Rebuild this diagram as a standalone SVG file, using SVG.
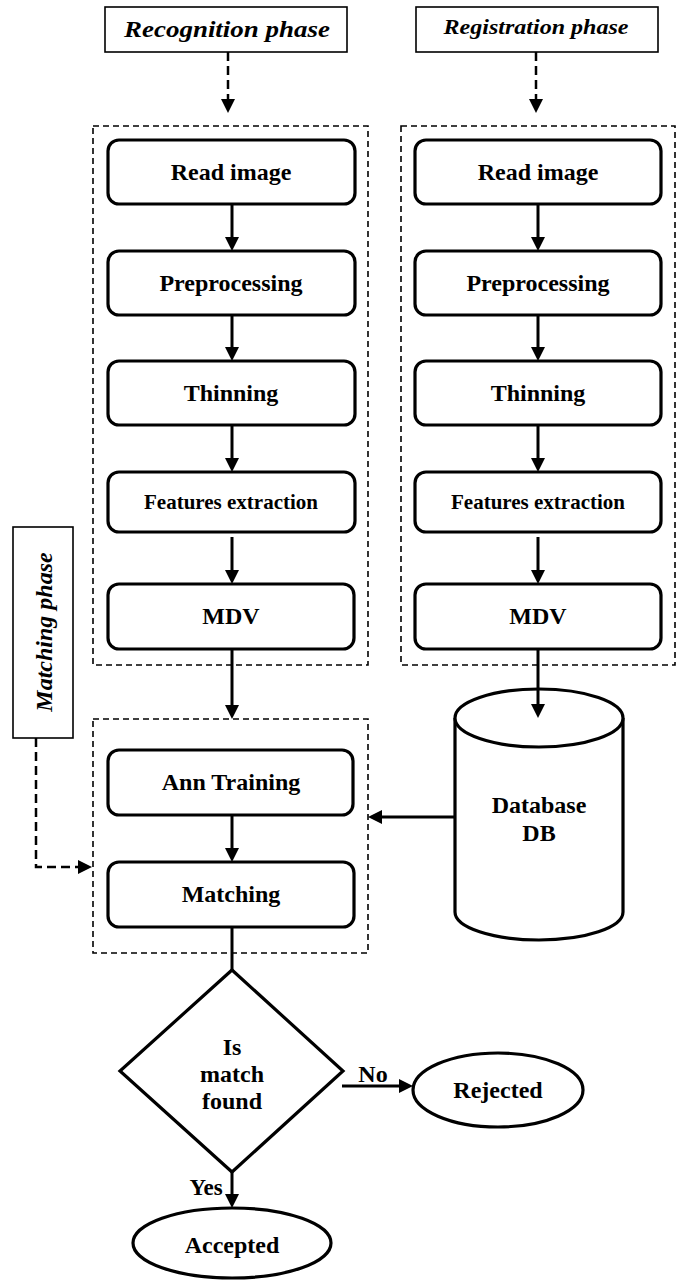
<svg xmlns="http://www.w3.org/2000/svg" width="682" height="1280" viewBox="0 0 682 1280">
<style>
.lbl{font-family:"Liberation Serif","Times New Roman",serif;font-weight:bold;font-size:24px;fill:#000;text-anchor:middle}
.phase{font-family:"Liberation Serif","Times New Roman",serif;font-weight:bold;font-style:italic;font-size:24px;fill:#000;text-anchor:middle}
.box{fill:#fff;stroke:#000;stroke-width:3.2}
.pbox{fill:#fff;stroke:#000;stroke-width:1.6}
.cont{fill:none;stroke:#000;stroke-width:1.6;stroke-dasharray:6,4}
.con{fill:none;stroke:#000;stroke-width:3}
.dcon{fill:none;stroke:#000;stroke-width:2.5;stroke-dasharray:9,5}
</style>
<defs>
<marker id="ah" markerUnits="userSpaceOnUse" markerWidth="14" markerHeight="14" refX="10" refY="7" orient="auto">
<path d="M0,0 L14,7 L0,14 z" fill="#000"/>
</marker>
</defs>
<rect width="682" height="1280" fill="#fff"/>

<g id="containers">
<rect id="recognition-container" class="cont" x="93" y="126" width="275" height="539"/>
<rect id="registration-container" class="cont" x="401" y="126" width="274" height="539"/>
<rect id="matching-container" class="cont" x="93" y="719" width="275" height="234"/>
</g>

<g id="connectors">
<path class="dcon" d="M228,52 V109" marker-end="url(#ah)"/>
<path class="dcon" d="M536,52 V109" marker-end="url(#ah)"/>
<path class="dcon" d="M36,738 V867 H88" marker-end="url(#ah)"/>
<path class="con" d="M232,204 V247" marker-end="url(#ah)"/>
<path class="con" d="M232,315 V357" marker-end="url(#ah)"/>
<path class="con" d="M232,425 V468" marker-end="url(#ah)"/>
<path class="con" d="M232,537 V580" marker-end="url(#ah)"/>
<path class="con" d="M232,649 V715" marker-end="url(#ah)"/>
<path class="con" d="M232,815 V858" marker-end="url(#ah)"/>
<path class="con" d="M232,927 V970"/>
<path class="con" d="M538,204 V247" marker-end="url(#ah)"/>
<path class="con" d="M538,315 V357" marker-end="url(#ah)"/>
<path class="con" d="M538,425 V468" marker-end="url(#ah)"/>
<path class="con" d="M538,537 V580" marker-end="url(#ah)"/>
<path class="con" d="M455,817 H372" marker-end="url(#ah)"/>
<path class="con" d="M342,1086 H409" marker-end="url(#ah)"/>
<path class="con" d="M232,1172 V1204" marker-end="url(#ah)"/>
</g>

<g id="recognition-phase">
<rect class="pbox" x="105" y="7" width="242" height="45"/>
<text class="phase" x="227" y="37" textLength="206" lengthAdjust="spacingAndGlyphs">Recognition phase</text>
</g>
<g id="registration-phase">
<rect class="pbox" x="416" y="7" width="242" height="45"/>
<text class="phase" x="536" y="34" style="font-size:21px" textLength="185" lengthAdjust="spacingAndGlyphs">Registration phase</text>
</g>
<g id="matching-phase">
<rect class="pbox" x="13" y="527" width="60" height="211"/>
<text class="phase" transform="translate(52,632) rotate(-90)">Matching phase</text>
</g>

<g id="l-read"><rect class="box" x="108" y="140" width="247" height="64" rx="11"/><text class="lbl" x="231" y="180">Read image</text></g>
<g id="l-pre"><rect class="box" x="108" y="251" width="247" height="64" rx="11"/><text class="lbl" x="231" y="291">Preprocessing</text></g>
<g id="l-thin"><rect class="box" x="108" y="361" width="247" height="64" rx="11"/><text class="lbl" x="231" y="401">Thinning</text></g>
<g id="l-feat"><rect class="box" x="108" y="472" width="247" height="60" rx="11"/><text class="lbl" x="231" y="509" style="font-size:21px">Features extraction</text></g>
<g id="l-mdv"><rect class="box" x="108" y="584" width="246" height="65" rx="11"/><text class="lbl" x="231" y="624">MDV</text></g>

<g id="r-read"><rect class="box" x="415" y="140" width="246" height="64" rx="11"/><text class="lbl" x="538" y="180">Read image</text></g>
<g id="r-pre"><rect class="box" x="415" y="251" width="246" height="64" rx="11"/><text class="lbl" x="538" y="291">Preprocessing</text></g>
<g id="r-thin"><rect class="box" x="415" y="361" width="246" height="64" rx="11"/><text class="lbl" x="538" y="401">Thinning</text></g>
<g id="r-feat"><rect class="box" x="415" y="472" width="246" height="60" rx="11"/><text class="lbl" x="538" y="509" style="font-size:21px">Features extraction</text></g>
<g id="r-mdv"><rect class="box" x="415" y="584" width="246" height="65" rx="11"/><text class="lbl" x="538" y="624">MDV</text></g>

<g id="database">
<path class="box" d="M455,718 V912 A84,28 0 0 0 623,912 V718"/>
<ellipse class="box" cx="539" cy="718" rx="84" ry="29"/>
<text class="lbl" x="539" y="813">Database</text>
<text class="lbl" x="539" y="841">DB</text>
</g>
<path class="con" d="M538,649 V714" marker-end="url(#ah)"/>

<g id="ann-training"><rect class="box" x="108" y="750" width="245" height="65" rx="11"/><text class="lbl" x="231" y="790">Ann Training</text></g>
<g id="matching"><rect class="box" x="108" y="862" width="246" height="65" rx="11"/><text class="lbl" x="231" y="902">Matching</text></g>

<g id="decision">
<polygon class="box" points="232,970 343,1071 232,1172 120,1071"/>
<text class="lbl" x="232" y="1055">Is</text>
<text class="lbl" x="232" y="1082">match</text>
<text class="lbl" x="232" y="1109">found</text>
</g>
<text class="lbl" x="373" y="1082">No</text>
<text class="lbl" x="206" y="1195" style="font-size:23px">Yes</text>

<g id="rejected"><ellipse class="box" cx="498" cy="1090" rx="85" ry="37"/><text class="lbl" x="498" y="1098">Rejected</text></g>
<g id="accepted"><ellipse class="box" cx="232" cy="1243" rx="99" ry="35"/><text class="lbl" x="232" y="1253">Accepted</text></g>
</svg>
